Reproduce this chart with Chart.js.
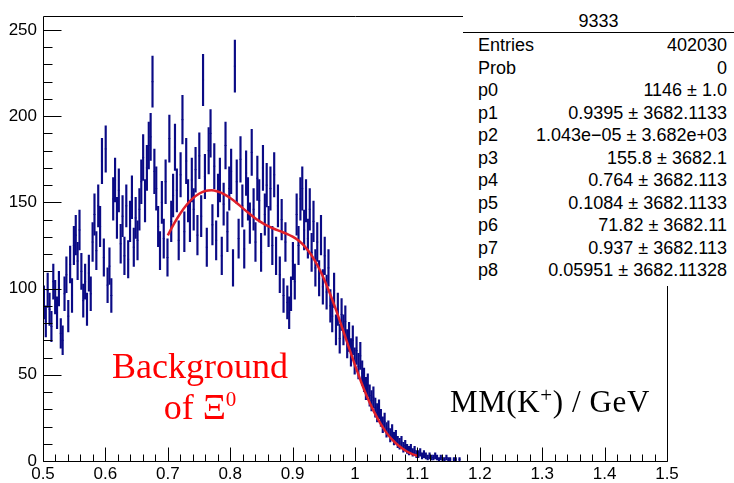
<!DOCTYPE html>
<html>
<head>
<meta charset="utf-8">
<script src="https://cdn.jsdelivr.net/npm/chart.js@4.4.1/dist/chart.umd.min.js"></script>
<style>
  html, body { margin: 0; padding: 0; background: #fff; }
  #wrap { position: relative; width: 734px; height: 483px; overflow: hidden; }
  #wrap canvas { position: absolute; left: 0; top: 0; }
  .stats { position: absolute; left: 463px; top: 10px; width: 271px; height: 276px; background: #fff;
           font-family: "Liberation Sans", Arial, sans-serif; font-size: 18px; color: #000; }
  .stats .title { position: absolute; left: 0; right: 0; top: 0; height: 22px; line-height: 23px;
                  text-align: center; border-bottom: 1px solid #000; }
  .stats table { position: absolute; left: 15px; top: 24px; width: 249px; border-collapse: collapse; }
  .stats td { padding: 0; height: 22.5px; line-height: 22.5px; white-space: nowrap; }
  .stats td.v { text-align: right; }
  .note { position: absolute; font-family: "Liberation Serif", "Times New Roman", serif; white-space: nowrap; }
  .bg { left: 100px; top: 346px; width: 200px; text-align: center; color: #f00; font-size: 36px; line-height: 41px; }
  .bg sup { font-size: 21px; position: relative; top: -13px; vertical-align: baseline; line-height: 0; }
  .axis { left: 450px; top: 387px; color: #000; font-size: 31px; line-height: 30px; letter-spacing: 0.6px; }
  .axis sup { font-size: 21px; position: relative; top: -10px; vertical-align: baseline; line-height: 0; }
</style>
</head>
<body>
<div id="wrap">
  <canvas id="hist" width="734" height="483"></canvas>
  <div class="note bg">Background<br>of Ξ<sup>0</sup></div>
  <div class="note axis">MM(K<sup>+</sup>) / GeV</div>
  <div class="stats">
    <div class="title">9333</div>
    <table id="statTable"></table>
  </div>
</div>
<script>
// histogram binning (GeV)
const histLow = 0.5;
const histWidth = 0.003;

// bin contents
const histCounts = [
  92, 81, 99, 88, 78, 104, 95, 86, 100, 74,
  70, 97, 108, 84, 114, 96, 125, 131, 116, 134,
  110, 93, 104, 88, 109, 97, 127, 143, 122, 148,
  136, 174, 118, 181, 102, 113, 96, 152, 163, 141,
  157, 126, 142, 119, 148, 117, 139, 153, 124, 141,
  128, 146, 162, 176, 151, 170, 183, 188, 220, 168,
  158, 136, 122, 150, 129, 162, 118, 187, 139, 154,
  182, 157, 128, 166, 198, 133, 174, 151, 139, 163,
  146, 169, 131, 177, 142, 221, 165, 124, 180, 190,
  137, 171, 128, 154, 163, 119, 149, 183, 133, 158,
  168, 112, 229, 162, 129, 175, 148, 123, 167, 152,
  138, 179, 146, 127, 164, 151, 121, 170, 143, 160,
  136, 158, 125, 166, 119, 148, 108, 140, 96, 127,
  92, 86, 97, 116, 104, 143, 125, 152, 158, 134,
  151, 129, 146, 121, 139, 112, 127, 106, 131, 101,
  119, 98, 112, 90, 84, 99, 76, 88, 71, 85,
  76, 81, 68, 72, 63, 70, 58, 64, 55, 61,
  51, 47, 42, 44, 38, 35, 37, 31, 28, 30,
  25, 21, 23, 18, 19, 15, 17, 13, 14, 11,
  10, 11, 8, 9, 7, 6, 7, 5, 6, 4,
  4, 5, 3, 4, 3, 2, 3, 2, 2, 3,
  2, 1, 2, 1, 1, 2, 1, 1, 0, 1,
  1, 0, 1, 0
];

// fit curve (red)
const fitX = [0.70, 0.71, 0.72, 0.73, 0.74, 0.75, 0.76, 0.77, 0.78, 0.79, 0.80,
              0.81, 0.82, 0.83, 0.84, 0.85, 0.86, 0.87, 0.88, 0.89, 0.90,
              0.91, 0.92, 0.93, 0.94, 0.95, 0.96, 0.97, 0.98, 0.99, 1.00,
              1.01, 1.02, 1.03, 1.04, 1.05, 1.06, 1.07, 1.08, 1.09, 1.10];
const fitY = [130.9, 137.7, 143.6, 148.5, 152.3, 155.0, 156.6, 157.0, 156.3, 154.8, 152.5,
              149.8, 146.7, 143.7, 140.8, 138.4, 136.4, 134.7, 133.3, 131.9, 130.1,
              127.7, 124.2, 119.5, 113.4, 105.9, 97.0, 87.2, 76.7, 66.0, 55.6,
              45.7, 36.7, 28.9, 22.2, 16.6, 12.2, 8.8, 6.2, 4.3, 3.0];

// axis ticks
const xTicks = [0.5, 0.6, 0.7, 0.8, 0.9, 1, 1.1, 1.2, 1.3, 1.4, 1.5];
const yTicks = [0, 50, 100, 150, 200, 250];

// stats box
const statLabels = ["Entries", "Prob", "p0", "p1", "p2", "p3", "p4", "p5", "p6", "p7", "p8"];
const statValues = ["402030", "0", "1146 ± 1.0", "0.9395 ± 3682.1133", "1.043e\u221205 ± 3.682e+03",
                    "155.8 ± 3682.1", "0.764 ± 3682.113", "0.1084 ± 3682.1133", "71.82 ± 3682.11",
                    "0.937 ± 3682.113", "0.05951 ± 3682.11328"];

const navy = "#0a0a85";
const fitRed = "#e0202a";

const table = document.getElementById("statTable");
statLabels.forEach((lab, i) => {
  const tr = document.createElement("tr");
  tr.innerHTML = "<td>" + lab + "</td><td class='v'>" + statValues[i] + "</td>";
  table.appendChild(tr);
});

const errBars = [];
const centers = [];
histCounts.forEach((n, i) => {
  if (n <= 0) return;
  const x = histLow + histWidth * (i + 0.5);
  const e = Math.sqrt(n);
  errBars.push({ x: x, y: [n - e, n + e] });
  centers.push({ x: x, y: n });
});
const fitPts = fitX.map((x, i) => ({ x: x, y: fitY[i] }));

// ROOT-style frame with inward ticks
const frameTicks = {
  id: "frameTicks",
  afterDatasetsDraw(chart) {
    const { ctx, chartArea: a, scales: { x, y } } = chart;
    const px = (v) => Math.round(v) + 0.5;
    ctx.save();
    ctx.strokeStyle = "#000";
    ctx.lineWidth = 1;
    ctx.beginPath();
    ctx.rect(px(a.left), px(a.top), Math.round(a.right - a.left), Math.round(a.bottom - a.top));
    for (let v = 0; v <= 250; v += 10) {
      const yy = px(y.getPixelForValue(v));
      const len = v % 50 === 0 ? 18 : 9;
      ctx.moveTo(px(a.left), yy);
      ctx.lineTo(px(a.left) + len, yy);
    }
    for (let k = 0; k <= 50; k++) {
      const xx = px(x.getPixelForValue(0.5 + k * 0.02));
      const len = k % 5 === 0 ? 14 : 7;
      ctx.moveTo(xx, px(a.bottom));
      ctx.lineTo(xx, px(a.bottom) - len);
    }
    ctx.stroke();
    ctx.restore();
  }
};

const tickFont = { family: "'Liberation Sans', Arial, sans-serif", size: 17 };

new Chart(document.getElementById("hist"), {
  type: "bar",
  data: {
    datasets: [
      { type: "bar", data: errBars, backgroundColor: navy, barThickness: 1.5, order: 3 },
      { type: "scatter", data: centers, pointStyle: "line", radius: 1, borderColor: navy,
        borderWidth: 1, order: 2 },
      { type: "line", data: fitPts, borderColor: fitRed, borderWidth: 2.5, pointRadius: 0,
        cubicInterpolationMode: "monotone", fill: false, order: 1 }
    ]
  },
  options: {
    responsive: false,
    animation: false,
    devicePixelRatio: 1,
    layout: { padding: { top: 10, right: 67, left: 0, bottom: 0 } },
    plugins: { legend: { display: false }, tooltip: { enabled: false } },
    scales: {
      x: {
        type: "linear", min: 0.5, max: 1.5, offset: false,
        grid: { display: false, drawTicks: false }, border: { display: false },
        afterBuildTicks: (s) => { s.ticks = xTicks.map((v) => ({ value: v })); },
        afterFit: (s) => { s.height = 22; },
        ticks: { color: "#000", font: tickFont, padding: 3, maxRotation: 0, autoSkip: false,
                 callback: (v) => String(v) }
      },
      y: {
        min: 0, max: 258,
        grid: { display: false, drawTicks: false }, border: { display: false },
        afterBuildTicks: (s) => { s.ticks = yTicks.map((v) => ({ value: v })); },
        afterFit: (s) => { s.width = 43; },
        ticks: { color: "#000", font: tickFont, padding: 6, callback: (v) => String(v) }
      }
    }
  },
  plugins: [frameTicks]
});
</script>
</body>
</html>
